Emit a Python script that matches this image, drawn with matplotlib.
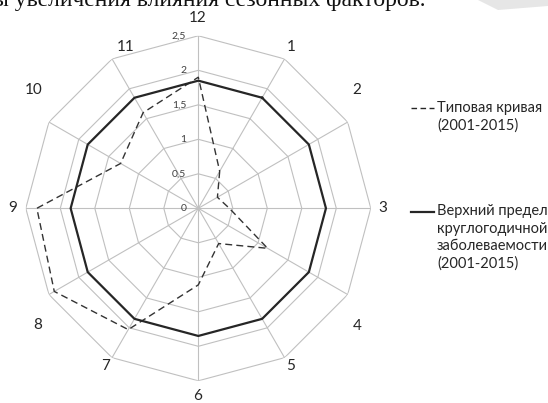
import numpy as np
import matplotlib.pyplot as plt
from matplotlib.lines import Line2D
from matplotlib.patches import Polygon
from matplotlib.transforms import offset_copy

months = ['1', '2', '3', '4', '5', '6', '7', '8', '9', '10', '11', '12']
typical = [0.62, 0.32, 0.45, 1.16, 0.59, 1.11, 2.03, 2.41, 2.34, 1.30, 1.60, 1.90]
upper = [1.85] * 12
rings = [0, 0.5, 1, 1.5, 2, 2.5]
ring_labels = ['0', '0,5', '1', '1,5', '2', '2,5']

label_typical = ['Типовая кривая', '(2001-2015)']
label_upper = ['Верхний предел', 'круглогодичной', 'заболеваемости', '(2001-2015)']

W, H = 548, 403
fig = plt.figure(figsize=(W / 100, H / 100), dpi=100)
fig.patch.set_facecolor('white')

# cropped line of page text and faint watermark on top
fig.text(-7 / W, 1 - 6 / H, 'ы увеличения влияния сезонных факторов.',
         family='Liberation Serif', fontsize=17, color='#111111',
         ha='left', va='baseline')
fig.add_artist(Polygon([(478 / W, 1), (1, 1), (1, 1 - 6 / H), (498 / W, 1 - 10 / H)],
                       closed=True, transform=fig.transFigure,
                       facecolor='#e6e6e6', edgecolor='none'))

cx, cy, R = 198.3, 403 - 208.3, 172.5
ax = fig.add_axes([(cx - R) / W, (cy - R) / H, 2 * R / W, 2 * R / H], projection='polar')
ax.set_theta_zero_location('N')
ax.set_theta_direction(-1)
ax.set_ylim(0, 2.5)
ax.grid(False)
ax.spines['polar'].set_visible(False)
ax.set_xticks([])
ax.set_yticks([])
ax.patch.set_alpha(0)

n = len(months)
theta = np.arange(1, n + 1) * 2 * np.pi / n
theta_c = np.append(theta, theta[0])

grid_c = '#c0c0c0'
for r in rings[1:]:
    ax.plot(theta_c, [r] * (n + 1), color=grid_c, lw=0.8, zorder=1)
for t in theta:
    ax.plot([t, t], [0, rings[-1]], color=grid_c, lw=0.8, zorder=1)

ax.plot(theta_c, upper + upper[:1], color='#262626', lw=1.6, zorder=3)
ax.plot(theta_c, typical + typical[:1], color='#333333', lw=1.0,
        dashes=(5, 3), zorder=2)

# category label centres (px from top-left), as Excel places them
label_xy = [(291, 47), (357, 90), (383, 208), (357, 326), (291, 366), (198, 396),
            (106, 366), (38, 325), (13, 208), (34, 90), (126, 47), (198, 18)]
for (x, y), m in zip(label_xy, months):
    fig.text(x / W, 1 - y / H, m, ha='center', va='center', fontsize=11,
             family='Lato', color='#262626')

tr = offset_copy(ax.transData, fig=fig, x=-12, y=0, units='dots')
for r, s in zip(rings, ring_labels):
    ax.text(0, r, s, transform=tr, ha='right', va='center', fontsize=7.5,
            family='Lato', color='#404040')

# legend
fs = 10.5
def legend_entry(y_top, lines, dashed):
    y = 1 - y_top / H
    kw = dict(dashes=(4, 2.5), lw=1.0) if dashed else dict(lw=1.6)
    fig.add_artist(Line2D([411 / W, 434 / W], [y, y], transform=fig.transFigure,
                          color='#262626', **kw))
    for i, s in enumerate(lines):
        fig.text(437 / W, 1 - (y_top + i * 17.2) / H, s, fontsize=fs,
                 family='Lato', color='#262626', ha='left', va='center')

legend_entry(108, label_typical, True)
legend_entry(211.5, label_upper, False)

fig.savefig('out.png', dpi=100)
